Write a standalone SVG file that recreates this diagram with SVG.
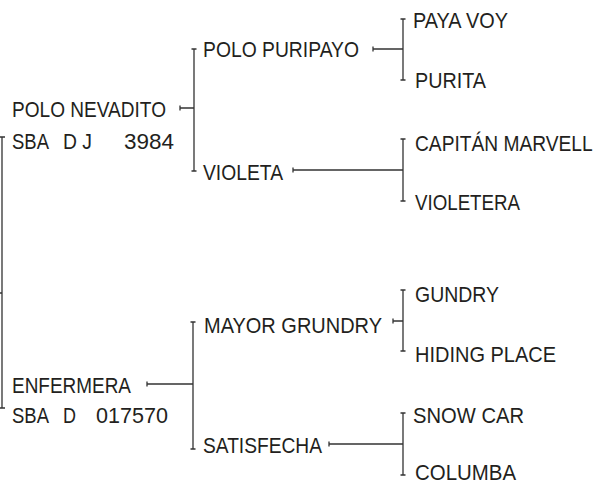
<svg xmlns="http://www.w3.org/2000/svg" width="604" height="485" viewBox="0 0 604 485">
<style>
text{font-family:"Liberation Sans",Arial,sans-serif;font-size:22px;fill:#231f20}
.c{fill:none;stroke:#333;stroke-width:1.3}
</style>
<rect width="604" height="485" fill="#fff"/>
<g id="connectors">
<path class="c" d="M2,137V408M0,137H5M0,408H5M0,293H2"/>
<path class="c" d="M180,108H194M180,105.5V110.5M194,49V171M191.5,49H196.5M191.5,171H196.5"/>
<path class="c" d="M373,49H403M373,46.5V51.5M403,19V80M400.5,19H405.5M400.5,80H405.5"/>
<path class="c" d="M293,170H403M293,167.5V172.5M403,139V201M400.5,139H405.5M400.5,201H405.5"/>
<path class="c" d="M147,384H193M147,381.5V386.5M193,322V449M190.5,322H195.5M190.5,449H195.5"/>
<path class="c" d="M393,321H403M393,318.5V323.5M403,290V351M400.5,290H405.5M400.5,351H405.5"/>
<path class="c" d="M329,444H403M329,441.5V446.5M403,413V475M400.5,413H405.5M400.5,475H405.5"/>
</g>
<g id="polo-nevadito">
<text x="12" y="117" textLength="154" lengthAdjust="spacingAndGlyphs">POLO NEVADITO</text>
<text x="12" y="149" textLength="37" lengthAdjust="spacingAndGlyphs">SBA</text>
<text x="63" y="149" textLength="29" lengthAdjust="spacingAndGlyphs">D J</text>
<text x="124" y="149" textLength="50" lengthAdjust="spacingAndGlyphs">3984</text>
</g>
<g id="polo-puripayo"><text x="203" y="57" textLength="156" lengthAdjust="spacingAndGlyphs">POLO PURIPAYO</text></g>
<g id="paya-voy"><text x="413" y="28" textLength="95" lengthAdjust="spacingAndGlyphs">PAYA VOY</text></g>
<g id="purita"><text x="415" y="88" textLength="71" lengthAdjust="spacingAndGlyphs">PURITA</text></g>
<g id="violeta"><text x="203" y="180" textLength="80" lengthAdjust="spacingAndGlyphs">VIOLETA</text></g>
<g id="capitan-marvell"><text transform="translate(415,151) scale(0.872,1)">CAPITÁN MARVELL</text></g>
<g id="violetera"><text x="415" y="210" textLength="105" lengthAdjust="spacingAndGlyphs">VIOLETERA</text></g>
<g id="enfermera">
<text x="12" y="393" textLength="119" lengthAdjust="spacingAndGlyphs">ENFERMERA</text>
<text x="12" y="423" textLength="37" lengthAdjust="spacingAndGlyphs">SBA</text>
<text x="63" y="423" textLength="13" lengthAdjust="spacingAndGlyphs">D</text>
<text x="96" y="423" textLength="72" lengthAdjust="spacingAndGlyphs">017570</text>
</g>
<g id="mayor-grundry"><text x="204" y="333" textLength="178" lengthAdjust="spacingAndGlyphs">MAYOR GRUNDRY</text></g>
<g id="gundry"><text x="415" y="302" textLength="84" lengthAdjust="spacingAndGlyphs">GUNDRY</text></g>
<g id="hiding-place"><text x="415" y="362" textLength="141" lengthAdjust="spacingAndGlyphs">HIDING PLACE</text></g>
<g id="satisfecha"><text x="203" y="453" textLength="119" lengthAdjust="spacingAndGlyphs">SATISFECHA</text></g>
<g id="snow-car"><text x="413" y="423" textLength="111" lengthAdjust="spacingAndGlyphs">SNOW CAR</text></g>
<g id="columba"><text x="415" y="480" textLength="101" lengthAdjust="spacingAndGlyphs">COLUMBA</text></g>
</svg>
